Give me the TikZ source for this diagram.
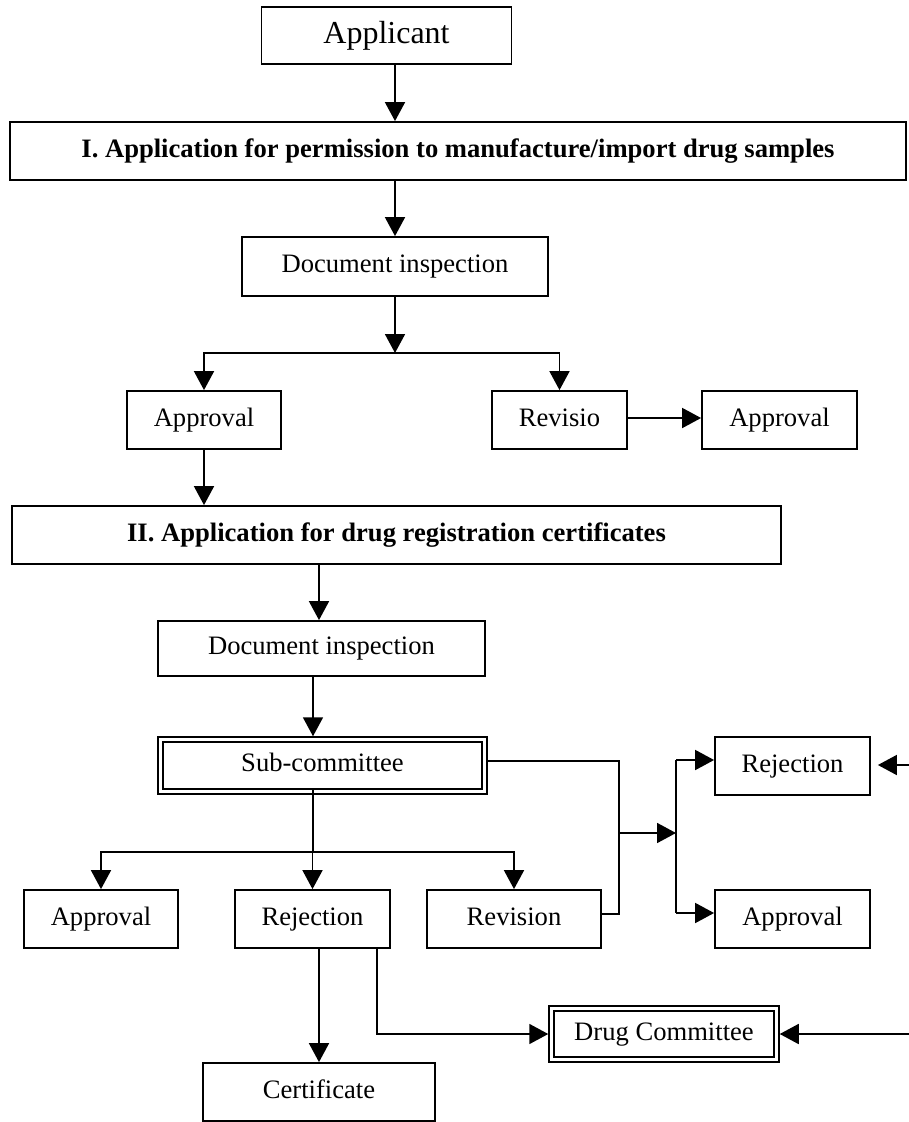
\documentclass[tikz,border=0pt]{standalone}
\usepackage{fontspec}
\setmainfont{Liberation Serif}
\usetikzlibrary{arrows.meta}
\begin{document}
\begin{tikzpicture}[x=1pt, y=-1pt,
  box/.style={draw, line width=1.8pt, inner sep=0pt, text height=18pt, text depth=5.5pt,
    font=\fontsize{26.6}{30}\selectfont},
  dbox/.style={box, double, double distance=3.5pt, line width=1.5pt},
  conn/.style={line width=1.8pt},
  arr/.style={conn, -{Triangle[length=19pt, width=20pt]}}]
\useasboundingbox (0,0) rectangle (909,1122);

% stage I
\node[box, minimum width=250pt, minimum height=57pt, text height=22pt, text depth=7pt,
  font=\fontsize{32}{36}\selectfont] (app) at (386.5,35.5) {Applicant};
\node[box, minimum width=896pt, minimum height=58pt, font=\bfseries\fontsize{26.6}{30}\selectfont] (stI) at (458,151) {I. Application for permission to manufacture/import drug samples};
\node[box, minimum width=306pt, minimum height=59pt] (doc1) at (395,266.5) {Document inspection};
\node[box, minimum width=154pt, minimum height=58pt] (appr1) at (204,420) {Approval};
\node[box, minimum width=135pt, minimum height=58pt] (revisio) at (559.5,420) {Revisio};
\node[box, minimum width=155pt, minimum height=58pt] (appr2) at (779.5,420) {Approval};

% stage II
\node[box, minimum width=769pt, minimum height=58pt, font=\bfseries\fontsize{26.6}{30}\selectfont] (stII) at (396.5,535) {II. Application for drug registration certificates};
\node[box, minimum width=327pt, minimum height=55pt] (doc2) at (321.5,648.5) {Document inspection};
\node[dbox, minimum width=324pt, minimum height=52pt] (sub) at (322.5,765.5) {Sub-committee};
\node[box, minimum width=155pt, minimum height=58pt] (rej2) at (792.5,766) {Rejection};
\node[box, minimum width=155pt, minimum height=58pt] (appr3) at (792.5,919) {Approval};
\node[box, minimum width=154pt, minimum height=58pt] (appr4) at (101,919) {Approval};
\node[box, minimum width=155pt, minimum height=58pt] (rej3) at (312.5,919) {Rejection};
\node[box, minimum width=174pt, minimum height=58pt] (rev) at (514,919) {Revision};
\node[box, minimum width=232pt, minimum height=58pt] (cert) at (319,1092) {Certificate};
\node[dbox, minimum width=225pt, minimum height=51pt] (drug) at (664,1034) {Drug Committee};

% routing points
\coordinate (colA) at (395,0);
\coordinate (j1) at (395,353);
\coordinate (colB) at (319,0);
\coordinate (colC) at (313,0);
\coordinate (j2) at (313,852);
\coordinate (k2) at (619,914);
\coordinate (k3) at (619,833);
\coordinate (k4) at (676,833);
\coordinate (colE) at (377,0);
\coordinate (e1) at (909,765);
\coordinate (e2) at (909,1034);
\coordinate (r2in) at ([yshift=6pt]rej2.west);
\coordinate (a3in) at ([yshift=6pt]appr3.west);
\coordinate (r2out) at (k4 |- r2in);
\coordinate (a3out) at (k4 |- a3in);

% stage I connectors
\draw[arr] (app.south -| colA) -- (stI.north -| colA);
\draw[arr] (stI.south -| colA) -- (doc1.north -| colA);
\draw[arr] (doc1.south -| colA) -- (j1);
\draw[arr] (j1) -| (appr1.north);
\draw[arr] (j1) -| (revisio.north);
\draw[arr] ([yshift=2pt]revisio.east) -- ([yshift=2pt]appr2.west);
\draw[arr] (appr1.south) -- (appr1.south |- stII.north);

% stage II connectors
\draw[arr] (stII.south -| colB) -- (doc2.north -| colB);
\draw[arr, shorten >=2.5pt] (doc2.south -| colC) -- (sub.north -| colC);
\draw[conn] ([yshift=2.5pt]sub.south -| colC) -- (j2);
\draw[arr] (j2) -| (appr4.north);
\draw[arr] (j2) -| (rej3.north);
\draw[arr] (j2) -| (rev.north);

\draw[conn] ([xshift=2.5pt, yshift=4.5pt]sub.east) -| (k2) -- ([yshift=5pt]rev.east);
\draw[arr] (k3) -- (k4);
\draw[conn] (r2out) -- (a3out);
\draw[arr] (r2out) -- (r2in);
\draw[arr] (a3out) -- (a3in);

\draw[arr] (e1) -- ([xshift=7pt]rej2.east |- e1);
\draw[arr, shorten >=2.5pt] (e2) -- (drug.east);

\draw[arr] (cert.north |- rej3.south) -- (cert.north);
\draw[arr, shorten >=2.5pt] (rej3.south -| colE) |- (drug.west);
\end{tikzpicture}
\end{document}
